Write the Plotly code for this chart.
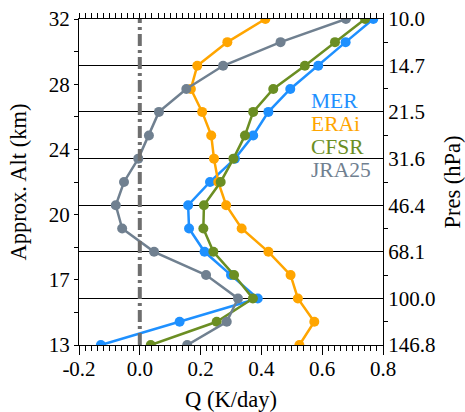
import plotly.graph_objects as go

# ---- data ----
pres_levels = [146.8, 121.2, 100.0, 82.5, 68.1, 56.2, 46.4, 38.3, 31.6, 26.1, 21.5, 17.8, 14.7, 12.1, 10.0]
mer  = [-0.128, 0.131, 0.388, 0.300, 0.213, 0.162, 0.159, 0.231, 0.313, 0.373, 0.423, 0.495, 0.587, 0.677, 0.768]
erai = [0.525, 0.574, 0.520, 0.496, 0.423, 0.335, 0.284, 0.258, 0.244, 0.235, 0.205, 0.168, 0.189, 0.288, 0.413]
cfsr = [0.036, 0.253, 0.372, 0.310, 0.242, 0.209, 0.211, 0.266, 0.308, 0.346, 0.373, 0.439, 0.543, 0.642, 0.741]
jra25 = [0.156, 0.286, 0.323, 0.218, 0.047, -0.058, -0.079, -0.052, -0.005, 0.030, 0.063, 0.153, 0.274, 0.463, 0.678]

series_names = ["MER", "ERAi", "CFSR", "JRA25"]
series_vals = [mer, erai, cfsr, jra25]
series_colors = ["#1E90FF", "#FFA500", "#6B8E23", "#708090"]

pres_ticks = [146.8, 100.0, 68.1, 46.4, 31.6, 21.5, 14.7, 10.0]
alt_labels = [13, 17, 20, 24, 28, 32]

x_ticks = [-0.2, 0.0, 0.2, 0.4, 0.6, 0.8]
x_ticktext = ["-0.2", "0.0", "0.2", "0.4", "0.6", "0.8"]

# ---- layout helpers ----
p_bot, p_top = 146.78, 10.0
span = 7.0 / 6.0  # decades covered by the axis
yrange = [2.16667, 1.0]


def p_at(frac):
    return p_bot * 10 ** (-frac * span)


# left axis: 11 equally spaced ticks, labels on every second one
alt_all = [p_at(i / 10) for i in range(11)]
alt_text = [str(alt_labels[i // 2]) if i % 2 == 0 else "" for i in range(11)]
# right axis minor ticks between pressure levels
pres_minor = [p_bot * 10 ** (-(2 * i + 1) / 12) for i in range(7)]
# bottom axis: ticks every 0.02, labels on the 0.2 ones
x_all = [round(-0.2 + 0.02 * i, 2) for i in range(51)]
x_text = [x_ticktext[i // 10] if i % 10 == 0 else "" for i in range(51)]

FONT = "Liberation Serif"
TF = dict(family=FONT, size=21, color="black")
TTF = dict(family=FONT, size=22.5, color="black")

fig = go.Figure()

# zero reference line
fig.add_trace(go.Scatter(x=[0, 0], y=[p_bot, p_top], mode="lines",
                         line=dict(color="#6E6E6E", width=4, dash="12px,4px,3px,4px"),
                         showlegend=False, yaxis="y2"))
# invisible helpers anchoring the extra tick axes
fig.add_trace(go.Scatter(x=[0.3], y=[50], yaxis="y3", mode="markers",
                         marker=dict(opacity=0), showlegend=False))
fig.add_trace(go.Scatter(x=[0.3], y=[50], xaxis="x2", mode="markers",
                         marker=dict(opacity=0), showlegend=False))

for name, vals, col in zip(series_names, series_vals, series_colors):
    fig.add_trace(go.Scatter(x=vals, y=pres_levels, mode="lines+markers", name=name,
                             line=dict(color=col, width=2.5),
                             marker=dict(color=col, size=10),
                             showlegend=False))

for i, (name, col) in enumerate(zip(series_names, series_colors)):
    fig.add_annotation(text=name, xref="paper", yref="paper",
                       x=(309 - 79) / 304, y=1 - (100.5 + 23.3 * i - 19) / 326,
                       xanchor="left", yanchor="middle", showarrow=False,
                       font=dict(family=FONT, size=21.5, color=col))

fig.update_layout(
    width=465, height=412,
    margin=dict(l=79, r=82, t=19, b=67),
    paper_bgcolor="white", plot_bgcolor="white",
    xaxis=dict(range=[-0.2, 0.8], tickmode="array", tickvals=x_all, ticktext=x_text, tickfont=TF,
               ticks="outside", ticklen=5, tickcolor="black", automargin=False,
               showline=True, linecolor="black", mirror="ticks",
               showgrid=False, zeroline=False,
               title=dict(text="Q (K/day)", font=TTF)),
    xaxis2=dict(range=[-0.2, 0.8], overlaying="x", anchor="y", side="bottom", tickmode="array",
                tickvals=x_ticks, showticklabels=False, ticks="outside", ticklen=9, tickcolor="black",
                automargin=False, showline=False, showgrid=False, zeroline=False),
    yaxis=dict(type="log", range=yrange, tickmode="array", tickvals=alt_all, ticktext=alt_text,
               tickfont=TF, ticks="outside", ticklen=4, tickcolor="black", automargin=False,
               showline=True, linecolor="black",
               showgrid=False, zeroline=False,
               title=dict(text="Approx. Alt (km)", font=TTF)),
    yaxis2=dict(type="log", range=yrange, overlaying="y", side="right", tickmode="array",
                tickvals=pres_ticks, ticktext=["%.1f" % p for p in pres_ticks], tickfont=TF,
                ticks="", showline=True, linecolor="black", automargin=False,
                showgrid=True, gridcolor="black", gridwidth=1, zeroline=False,
                title=dict(text="Pres (hPa)", font=TTF)),
    yaxis3=dict(type="log", range=yrange, overlaying="y", side="right", tickmode="array",
                tickvals=pres_minor, showticklabels=False, ticks="outside", ticklen=4,
                tickcolor="black", automargin=False, showline=False, showgrid=False, zeroline=False),
)

fig.write_html("out.html")
